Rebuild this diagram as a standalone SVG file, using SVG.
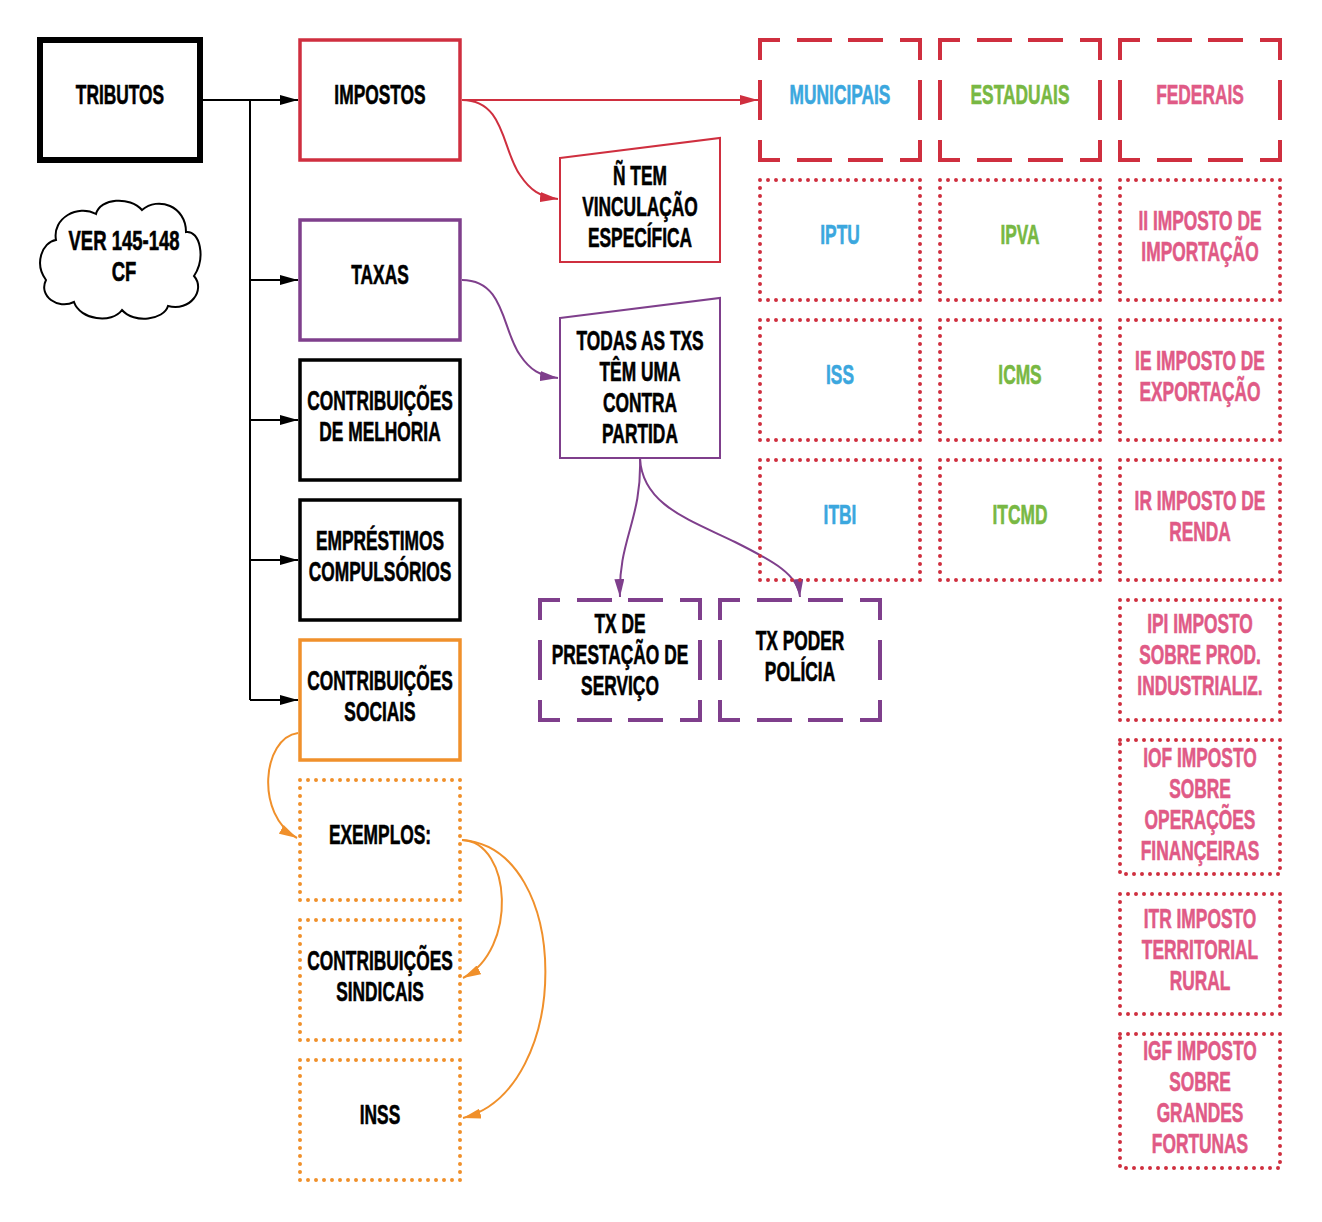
<svg xmlns="http://www.w3.org/2000/svg" width="1322" height="1222" viewBox="0 0 1322 1222">
<defs>
<style>
.t{font-family:"Liberation Sans",Arial,sans-serif;font-weight:700;font-size:28px;text-anchor:middle;fill:#000;stroke:#000;stroke-width:0.6}
.bl{fill:#3ba7de;stroke:#3ba7de}.gr{fill:#78b843;stroke:#78b843}.pk{fill:#e05a86;stroke:#e05a86}
.box{fill:#fff}
.dh{fill:none;stroke-width:4;stroke-dasharray:22 17 35 16 35 17 22 300}
.dv{fill:none;stroke-width:4;stroke-dasharray:20 20 40 20 20 300}
.dot{fill:none;stroke-width:4;stroke-linecap:round;stroke-dasharray:0 8}
.red{stroke:#cf2f3f}.pur{stroke:#7f3f8c}.org{stroke:#f0902b}.blk{stroke:#000}
.ln{fill:none;stroke-width:2}
</style>
<marker id="ak" markerUnits="userSpaceOnUse" markerWidth="18" markerHeight="10" refX="18" refY="5" orient="auto"><path d="M0,0 L18,5 L0,10 Z" fill="#000"/></marker>
<marker id="ar" markerUnits="userSpaceOnUse" markerWidth="18" markerHeight="10" refX="18" refY="5" orient="auto"><path d="M0,0 L18,5 L0,10 Z" fill="#cf2f3f"/></marker>
<marker id="ap" markerUnits="userSpaceOnUse" markerWidth="18" markerHeight="10" refX="18" refY="5" orient="auto"><path d="M0,0 L18,5 L0,10 Z" fill="#7f3f8c"/></marker>
<marker id="ao" markerUnits="userSpaceOnUse" markerWidth="18" markerHeight="10" refX="18" refY="5" orient="auto"><path d="M0,0 L18,5 L0,10 Z" fill="#f0902b"/></marker>
</defs>
<rect width="1322" height="1222" fill="#fff"/>

<g id="connectors">
<path class="ln blk" d="M200,100 H298" marker-end="url(#ak)"/>
<path class="ln blk" d="M250,100 V700"/>
<path class="ln blk" d="M250,280 H298" marker-end="url(#ak)"/>
<path class="ln blk" d="M250,420 H298" marker-end="url(#ak)"/>
<path class="ln blk" d="M250,560 H298" marker-end="url(#ak)"/>
<path class="ln blk" d="M250,700 H298" marker-end="url(#ak)"/>
<path class="ln red" d="M462,100 H758" marker-end="url(#ar)"/>
<path class="ln red" d="M462,100 C505,100 502,150 520,175 C530,190 540,197 558,199" marker-end="url(#ar)"/>
<path class="ln pur" d="M462,280 C505,280 502,330 520,355 C530,370 540,376 558,378" marker-end="url(#ap)"/>
<path class="ln pur" d="M640,458 C642,520 618,540 620,597" marker-end="url(#ap)"/>
<path class="ln pur" d="M640,458 C642,505 690,520 735,542 C775,562 798,575 800,597" marker-end="url(#ap)"/>
<path class="ln org" d="M298,733 C262,738 255,815 297,838" marker-end="url(#ao)"/>
<path class="ln org" d="M462,840 C512,842 518,950 463,978" marker-end="url(#ao)"/>
<path class="ln org" d="M462,840 C573,848 573,1090 463,1118" marker-end="url(#ao)"/>
</g>

<g id="tributos">
<rect class="box" x="40" y="40" width="160" height="120" stroke="#000" stroke-width="6"/>
<text class="t" transform="matrix(.62 0 0 1 120 0)"><tspan x="0" y="104">TRIBUTOS</tspan></text>
</g>
<g id="cloud">
<path d="M56,240 C42,242 34,264 46,280 C38,296 58,310 74,302 C80,320 112,324 122,310 C134,324 164,320 168,306 C190,312 206,290 194,276 C206,258 200,230 186,232 C186,206 158,196 142,210 C130,196 100,198 96,214 C78,204 52,218 56,240 Z" fill="#fff" stroke="#000" stroke-width="2"/>
<text class="t" transform="matrix(.66 0 0 1 124 0)"><tspan x="0" y="250">VER 145-148</tspan><tspan x="0" y="281">CF</tspan></text>
</g>
<g id="impostos">
<rect class="box" x="300" y="40" width="160" height="120" stroke="#cf2f3f" stroke-width="3.5"/>
<text class="t" transform="matrix(.62 0 0 1 380 0)"><tspan x="0" y="104">IMPOSTOS</tspan></text>
</g>
<g id="taxas">
<rect class="box" x="300" y="220" width="160" height="120" stroke="#7f3f8c" stroke-width="3.5"/>
<text class="t" transform="matrix(.62 0 0 1 380 0)"><tspan x="0" y="284">TAXAS</tspan></text>
</g>
<g id="contrib-melhoria">
<rect class="box" x="300" y="360" width="160" height="120" stroke="#000" stroke-width="3.5"/>
<text class="t" transform="matrix(.62 0 0 1 380 0)"><tspan x="0" y="410">CONTRIBUIÇÕES</tspan><tspan x="0" y="441">DE MELHORIA</tspan></text>
</g>
<g id="emprestimos">
<rect class="box" x="300" y="500" width="160" height="120" stroke="#000" stroke-width="3.5"/>
<text class="t" transform="matrix(.62 0 0 1 380 0)"><tspan x="0" y="550">EMPRÉSTIMOS</tspan><tspan x="0" y="581">COMPULSÓRIOS</tspan></text>
</g>
<g id="contrib-sociais">
<rect class="box" x="300" y="640" width="160" height="120" stroke="#f0902b" stroke-width="3.5"/>
<text class="t" transform="matrix(.62 0 0 1 380 0)"><tspan x="0" y="690">CONTRIBUIÇÕES</tspan><tspan x="0" y="721">SOCIAIS</tspan></text>
</g>
<g id="exemplos">
<rect class="dot org" x="300" y="780" width="160" height="120"/>
<text class="t" transform="matrix(.62 0 0 1 380 0)"><tspan x="0" y="844">EXEMPLOS:</tspan></text>
</g>
<g id="sindicais">
<rect class="dot org" x="300" y="920" width="160" height="120"/>
<text class="t" transform="matrix(.62 0 0 1 380 0)"><tspan x="0" y="970">CONTRIBUIÇÕES</tspan><tspan x="0" y="1001">SINDICAIS</tspan></text>
</g>
<g id="inss">
<rect class="dot org" x="300" y="1060" width="160" height="120"/>
<text class="t" transform="matrix(.62 0 0 1 380 0)"><tspan x="0" y="1124">INSS</tspan></text>
</g>

<g id="nao-vinculacao">
<path d="M560,158 L720,138 L720,262 L560,262 Z" fill="#fff" stroke="#cf2f3f" stroke-width="2"/>
<text class="t" transform="matrix(.62 0 0 1 640 0)"><tspan x="0" y="185">Ñ TEM</tspan><tspan x="0" y="216">VINCULAÇÃO</tspan><tspan x="0" y="247">ESPECÍFICA</tspan></text>
</g>
<g id="contrapartida">
<path d="M560,318 L720,298 L720,458 L560,458 Z" fill="#fff" stroke="#7f3f8c" stroke-width="2"/>
<text class="t" transform="matrix(.62 0 0 1 640 0)"><tspan x="0" y="350">TODAS AS TXS</tspan><tspan x="0" y="381">TÊM UMA</tspan><tspan x="0" y="412">CONTRA</tspan><tspan x="0" y="443">PARTIDA</tspan></text>
</g>
<g id="tx-servico">
<path class="dh pur" d="M538,600 h164 M538,720 h164"/>
<path class="dv pur" d="M540,600 v120 M700,600 v120"/>
<text class="t" transform="matrix(.62 0 0 1 620 0)"><tspan x="0" y="633">TX DE</tspan><tspan x="0" y="664">PRESTAÇÃO DE</tspan><tspan x="0" y="695">SERVIÇO</tspan></text>
</g>
<g id="tx-policia">
<path class="dh pur" d="M718,600 h164 M718,720 h164"/>
<path class="dv pur" d="M720,600 v120 M880,600 v120"/>
<text class="t" transform="matrix(.62 0 0 1 800 0)"><tspan x="0" y="650">TX PODER</tspan><tspan x="0" y="681">POLÍCIA</tspan></text>
</g>

<g id="municipais">
<path class="dh red" d="M758,40 h164 M758,160 h164"/>
<path class="dv red" d="M760,40 v120 M920,40 v120"/>
<text class="t bl" transform="matrix(.62 0 0 1 840 0)"><tspan x="0" y="104">MUNICIPAIS</tspan></text>
</g>
<g id="estaduais">
<path class="dh red" d="M938,40 h164 M938,160 h164"/>
<path class="dv red" d="M940,40 v120 M1100,40 v120"/>
<text class="t gr" transform="matrix(.62 0 0 1 1020 0)"><tspan x="0" y="104">ESTADUAIS</tspan></text>
</g>
<g id="federais">
<path class="dh red" d="M1118,40 h164 M1118,160 h164"/>
<path class="dv red" d="M1120,40 v120 M1280,40 v120"/>
<text class="t pk" transform="matrix(.62 0 0 1 1200 0)"><tspan x="0" y="104">FEDERAIS</tspan></text>
</g>

<g id="iptu"><rect class="dot red" x="760" y="180" width="160" height="120"/>
<text class="t bl" transform="matrix(.62 0 0 1 840 0)"><tspan x="0" y="244">IPTU</tspan></text></g>
<g id="iss"><rect class="dot red" x="760" y="320" width="160" height="120"/>
<text class="t bl" transform="matrix(.62 0 0 1 840 0)"><tspan x="0" y="384">ISS</tspan></text></g>
<g id="itbi"><rect class="dot red" x="760" y="460" width="160" height="120"/>
<text class="t bl" transform="matrix(.62 0 0 1 840 0)"><tspan x="0" y="524">ITBI</tspan></text></g>

<g id="ipva"><rect class="dot red" x="940" y="180" width="160" height="120"/>
<text class="t gr" transform="matrix(.62 0 0 1 1020 0)"><tspan x="0" y="244">IPVA</tspan></text></g>
<g id="icms"><rect class="dot red" x="940" y="320" width="160" height="120"/>
<text class="t gr" transform="matrix(.62 0 0 1 1020 0)"><tspan x="0" y="384">ICMS</tspan></text></g>
<g id="itcmd"><rect class="dot red" x="940" y="460" width="160" height="120"/>
<text class="t gr" transform="matrix(.62 0 0 1 1020 0)"><tspan x="0" y="524">ITCMD</tspan></text></g>

<g id="ii"><rect class="dot red" x="1120" y="180" width="160" height="120"/>
<text class="t pk" transform="matrix(.62 0 0 1 1200 0)"><tspan x="0" y="230">II IMPOSTO DE</tspan><tspan x="0" y="261">IMPORTAÇÃO</tspan></text></g>
<g id="ie"><rect class="dot red" x="1120" y="320" width="160" height="120"/>
<text class="t pk" transform="matrix(.62 0 0 1 1200 0)"><tspan x="0" y="370">IE IMPOSTO DE</tspan><tspan x="0" y="401">EXPORTAÇÃO</tspan></text></g>
<g id="ir"><rect class="dot red" x="1120" y="460" width="160" height="120"/>
<text class="t pk" transform="matrix(.62 0 0 1 1200 0)"><tspan x="0" y="510">IR IMPOSTO DE</tspan><tspan x="0" y="541">RENDA</tspan></text></g>
<g id="ipi"><rect class="dot red" x="1120" y="600" width="160" height="120"/>
<text class="t pk" transform="matrix(.62 0 0 1 1200 0)"><tspan x="0" y="633">IPI IMPOSTO</tspan><tspan x="0" y="664">SOBRE PROD.</tspan><tspan x="0" y="695">INDUSTRIALIZ.</tspan></text></g>
<g id="iof"><rect class="dot red" x="1120" y="740" width="160" height="134"/>
<text class="t pk" transform="matrix(.62 0 0 1 1200 0)"><tspan x="0" y="767">IOF IMPOSTO</tspan><tspan x="0" y="798">SOBRE</tspan><tspan x="0" y="829">OPERAÇÕES</tspan><tspan x="0" y="860">FINANÇEIRAS</tspan></text></g>
<g id="itr"><rect class="dot red" x="1120" y="894" width="160" height="120"/>
<text class="t pk" transform="matrix(.62 0 0 1 1200 0)"><tspan x="0" y="928">ITR IMPOSTO</tspan><tspan x="0" y="959">TERRITORIAL</tspan><tspan x="0" y="990">RURAL</tspan></text></g>
<g id="igf"><rect class="dot red" x="1120" y="1034" width="160" height="134"/>
<text class="t pk" transform="matrix(.62 0 0 1 1200 0)"><tspan x="0" y="1060">IGF IMPOSTO</tspan><tspan x="0" y="1091">SOBRE</tspan><tspan x="0" y="1122">GRANDES</tspan><tspan x="0" y="1153">FORTUNAS</tspan></text></g>
</svg>
